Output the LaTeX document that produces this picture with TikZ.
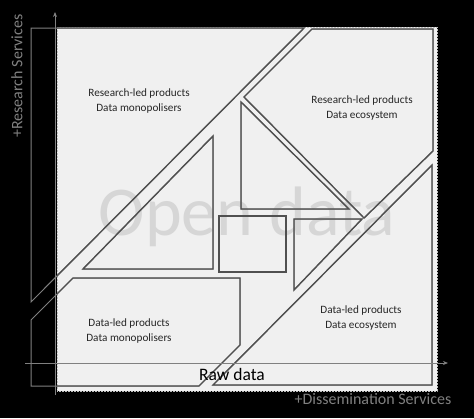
\documentclass[tikz,border=0pt]{standalone}
\usepackage{fontspec}
\setmainfont{Carlito}
\usetikzlibrary{arrows.meta}
\definecolor{panelgray}{HTML}{F0F0F0}
\definecolor{edgegray}{HTML}{505050}
\definecolor{axisgray}{HTML}{808080}
\definecolor{markgray}{HTML}{D6D6D6}
% the eight pieces of the square
\newcommand{\tiles}[1]{
	\draw[#1] (31,28) -- (304,28) -- (31,302) -- cycle;
	\draw[#1] (312,29) -- (433,29) -- (433,151) -- (364,218) -- (244,97) -- cycle;
	\draw[#1] (241,102) -- (241,209) -- (349,209) -- cycle;
	\draw[#1] (219,216) rectangle (286,272);
	\draw[#1] (294,219) -- (362,219) -- (294,290) -- cycle;
	\draw[#1] (83,269) -- (213,269) -- (213,136) -- cycle;
	\draw[#1] (31,320) -- (73,278) -- (240,278) -- (240,345) -- (199,386) -- (31,386) -- cycle;
	\draw[#1] (213,385) -- (432,385) -- (432,165) -- cycle;
}
\begin{document}
\begin{tikzpicture}[x=1pt, y=-1pt,
	tile/.style = {draw=edgegray, line width=1.4pt},
	outer tile/.style = {draw=axisgray, line width=1pt},
	label/.style = {align=center, text=black!85, font=\fontsize{11.2}{14.5}\selectfont},
	axis/.style = {draw=axisgray, line width=0.8pt, -{Stealth[length=5pt, width=4pt]}},
	axis label/.style = {text=axisgray, font=\fontsize{16}{18}\selectfont}]
	\fill[black] (0,0) rectangle (474,418);
	\fill[panelgray] (57,27) rectangle (437,391);
	\draw[gray!50, dash pattern=on 2pt off 1pt, line width=0.6pt] (57,27) rectangle (437,391);
	\node[anchor=base, text=markgray, font=\fontsize{70}{70}\selectfont] (open) at (247,235) {Open data};
	% pieces: lighter where they stick out, darker on the panel
	\tiles{outer tile}
	\begin{scope}
		\clip (57,27) rectangle (437,391);
		\tiles{tile}
	\end{scope}
	\node[label] (rmono) at (139,101) {Research-led products\\Data monopolisers};
	\node[label] (reco) at (362,108) {Research-led products\\Data ecosystem};
	\node[label] (dmono) at (129,331) {Data-led products\\Data monopolisers};
	\node[label] (deco) at (361,318) {Data-led products\\Data ecosystem};
	\node[anchor=base, text=black, font=\fontsize{17.5}{20}\selectfont] (raw) at (232,380) {Raw data};
	% axes
	\coordinate (origin) at (55,395);
	\coordinate (ytop) at (55,12);
	\coordinate (xleft) at (25,363);
	\coordinate (xright) at (448,363);
	\draw[axis] (origin) -- (ytop);
	\draw[axis] (xleft) -- (xright);
	\node[axis label, rotate=90] (research) at (17,76) {+Research Services};
	\node[axis label] (dissem) at (373,399) {+Dissemination Services};
\end{tikzpicture}
\end{document}
